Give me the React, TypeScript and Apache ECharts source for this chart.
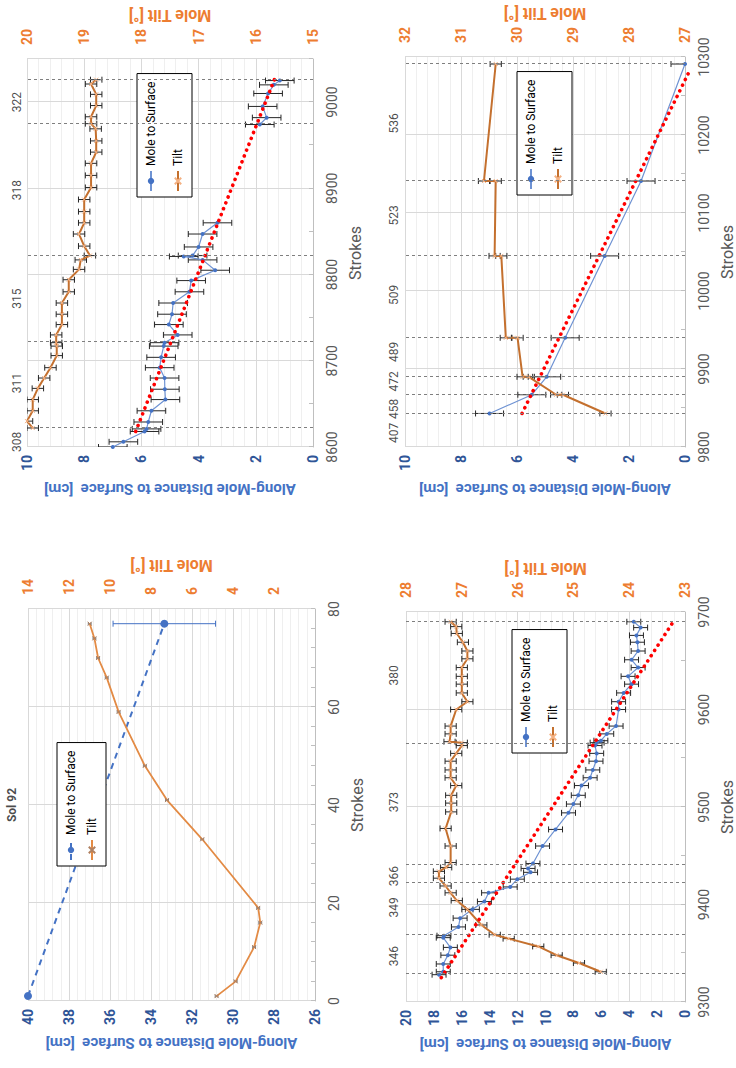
import React, { useEffect, useRef } from 'react';
import * as echarts from 'echarts';

// ---------- Panel "Sol 92" (strokes 0-80) ----------
const C_DIST_STROKES = [1, 77];
const C_DIST = [40, 33.35];
const C_DIST_ERR = [0, 2.5];
const C_TILT_STROKES = [1, 4, 11, 16, 19, 33, 41, 48, 59, 66, 70, 74, 77];
const C_TILT = [4.8, 3.87, 2.97, 2.67, 2.77, 5.5, 7.22, 8.3, 9.58, 10.16, 10.58, 10.76, 10.99];
const C_TILT_ERR = 0.07;
const C_TITLE_STROKE = 40;
const C_TITLE = 'Sol 92';

// ---------- Panel sols 308-322 (strokes 8600-9050) ----------
const A_DIST_STROKES_1 = [8600, 8606, 8618, 8621, 8629, 8642, 8655, 8667, 8680, 8692, 8704, 8717, 8721, 8730, 8742, 8754, 8767, 8780, 8793, 8805, 8817, 8821, 8822, 8832, 8847, 8860];
const A_DIST_1 = [7.0, 6.63, 5.89, 5.82, 5.76, 5.65, 5.16, 5.18, 5.19, 5.36, 5.31, 5.22, 5.19, 4.73, 5.04, 4.93, 4.89, 4.32, 4.26, 3.42, 3.86, 4.52, 4.21, 4.0, 3.86, 3.34];
const A_DIST_STROKES_2 = [8974, 8982, 8995, 9010, 9020, 9025];
const A_DIST_2 = [1.86, 1.62, 1.76, 1.57, 1.37, 1.16];
const A_DIST_ERR = 0.5;
const A_TILT_STROKES = [8622, 8630, 8642, 8655, 8668, 8680, 8692, 8706, 8717, 8721, 8730, 8742, 8754, 8767, 8780, 8794, 8806, 8817, 8822, 8833, 8847, 8860, 8873, 8887, 8901, 8915, 8929, 8942, 8955, 8969, 8975, 8983, 8996, 9009, 9021, 9026];
const A_TILT = [19.9, 20.0, 19.9, 19.9, 19.81, 19.7, 19.59, 19.48, 19.48, 19.49, 19.49, 19.39, 19.39, 19.39, 19.27, 19.27, 19.09, 19.06, 18.9, 19.0, 19.09, 19.0, 19.0, 19.0, 18.88, 18.88, 18.88, 18.79, 18.79, 18.8, 18.88, 18.88, 18.79, 18.79, 18.88, 18.79];
const A_TILT_ERR = 0.1;
const A_TREND_STROKES = [8618, 9032];
const A_TREND = [6.2, 1.28];
const A_SOL_LINES = [8622, 8722, 8822, 8975, 9026];
const A_SOL_LABEL_STROKES = [8606, 8674, 8772, 8898, 9000];
const A_SOL_LABELS = ['308', '311', '315', '318', '322'];

// ---------- Panel sols 346-380 (strokes 9300-9700) ----------
const D_DIST_STROKES = [9328, 9331, 9339, 9348, 9356, 9366, 9368, 9377, 9386, 9395, 9403, 9412, 9418, 9426, 9433, 9437, 9442, 9460, 9477, 9494, 9503, 9512, 9522, 9530, 9538, 9547, 9555, 9563, 9566, 9568, 9575, 9583, 9600, 9608, 9617, 9626, 9634, 9643, 9651, 9660, 9669, 9676, 9684, 9690];
const D_DIST = [17.63, 17.33, 17.33, 17.0, 16.82, 17.33, 17.28, 16.24, 16.12, 15.24, 14.38, 14.08, 12.53, 12.02, 11.07, 11.25, 10.9, 10.21, 9.28, 8.35, 8.0, 7.65, 7.42, 6.8, 6.61, 6.38, 6.33, 6.45, 6.3, 6.03, 5.61, 4.94, 4.76, 4.76, 4.4, 3.83, 4.08, 3.36, 3.83, 3.36, 3.41, 3.48, 3.18, 3.67];
const D_DIST_ERR = 0.5;
const D_TILT_STROKES = [9331, 9340, 9348, 9357, 9365, 9369, 9379, 9395, 9404, 9412, 9419, 9427, 9434, 9438, 9443, 9460, 9478, 9495, 9504, 9512, 9522, 9530, 9538, 9547, 9555, 9563, 9566, 9567, 9575, 9583, 9600, 9608, 9617, 9626, 9634, 9643, 9652, 9660, 9669, 9678, 9685, 9690];
const D_TILT = [24.51, 24.9, 25.3, 25.63, 26.16, 26.41, 26.65, 26.9, 27.09, 27.2, 27.29, 27.41, 27.41, 27.28, 27.2, 27.2, 27.29, 27.19, 27.19, 27.19, 27.1, 27.2, 27.2, 27.2, 27.1, 27.0, 27.0, 27.22, 27.2, 27.2, 27.1, 26.9, 27.0, 27.0, 27.0, 27.0, 26.9, 26.9, 26.98, 27.09, 27.1, 27.2];
const D_TILT_ERR = 0.1;
const D_TREND_STROKES = [9325, 9688];
const D_TREND = [17.47, 0.93];
const D_SOL_LINES = [9329, 9369, 9422, 9441, 9565, 9690];
const D_SOL_LABEL_STROKES = [9347, 9397, 9429, 9505, 9635];
const D_SOL_LABELS = ['346', '349', '366', '373', '380'];

// ---------- Panel sols 407-536 (strokes 9800-10300) ----------
const B_DIST_STROKES = [9843, 9867, 9890, 9940, 10045, 10141, 10291];
const B_DIST = [6.98, 5.47, 4.94, 4.28, 2.87, 1.57, 0];
const B_DIST_ERR = 0.5;
const B_TILT_STROKES = [9843, 9867, 9867, 9890, 9890, 9940, 9940, 10045, 10045, 10141, 10141, 10291];
const B_TILT = [28.42, 29.18, 29.3, 29.79, 29.9, 29.99, 30.2, 30.28, 30.4, 30.38, 30.59, 30.38];
const B_TILT_ERR = 0.1;
const B_TREND_STROKES = [9843, 10285];
const B_TREND = [5.82, -0.2];
const B_SOL_LINES = [9843, 9867, 9890, 9940, 10045, 10141, 10291];
const B_SOL_LABEL_STROKES = [9818, 9849, 9884, 9922, 9995, 10097, 10215];
const B_SOL_LABELS = ['407', '458', '472', '489', '509', '523', '536'];

const FONT = 'Roboto, "Liberation Sans", sans-serif';
const BLUE = '#4472C4';
const BLUE_DARK = '#2F5597';
const ORANGE = '#ED7D31';
const TILT_LINE = '#C4702E';
const GRID_MAJOR = '#D9D9D9';
const GRID_MINOR = '#EFEFEF';

const pairs = (xs: number[], ys: number[]) => xs.map((x, i) => [x, ys[i]]);
const errs = (xs: number[], ys: number[], e: number | number[]) =>
  xs.map((x, i) => {
    const d = Array.isArray(e) ? e[i] : e;
    return [x, ys[i] - d, ys[i] + d];
  }).filter((r) => r[2] - r[1] > 0);

const errBar = (color: string, cap: number) => (_p: any, api: any) => {
  const x = api.value(0);
  const a = api.coord([x, api.value(1)]);
  const b = api.coord([x, api.value(2)]);
  const st = { stroke: color, lineWidth: 1 };
  return {
    type: 'group',
    children: [
      { type: 'line', shape: { x1: a[0], y1: a[1], x2: b[0], y2: b[1] }, style: st },
      { type: 'line', shape: { x1: a[0] - cap, y1: a[1], x2: a[0] + cap, y2: a[1] }, style: st },
      { type: 'line', shape: { x1: b[0] - cap, y1: b[1], x2: b[0] + cap, y2: b[1] }, style: st },
    ],
  };
};

const CROSS = 'path://M0,0L10,10M10,0L0,10';

type PanelCfg = {
  key: string;
  grid: { left: number; top: number; width: number; height: number };
  x: [number, number, number, number];
  d: [number, number, number];
  t: [number, number, number];
  hideTiltMin?: boolean;
  showXMax?: boolean;
  legend: { left: number; top: number; gap: number };
};

const PANELS: PanelCfg[] = [
  { key: 'C', grid: { left: 67, top: 28, width: 392, height: 287 }, x: [0, 80, 20, 5], d: [26, 40, 2], t: [0, 14, 2], hideTiltMin: true, showXMax: true, legend: { left: 202, top: 57, gap: 9 } },
  { key: 'A', grid: { left: 621, top: 27, width: 388, height: 286 }, x: [8600, 9050, 100, 2], d: [0, 10, 2], t: [15, 20, 1], showXMax: false, legend: { left: 871, top: 137, gap: 15 } },
  { key: 'D', grid: { left: 66, top: 406, width: 390, height: 287 }, x: [9300, 9700, 100, 2], d: [0, 20, 2], t: [23, 28, 1], showXMax: true, legend: { left: 315, top: 512, gap: 15 } },
  { key: 'B', grid: { left: 621, top: 405, width: 390, height: 286 }, x: [9800, 10300, 100, 2], d: [0, 10, 2], t: [27, 32, 1], showXMax: true, legend: { left: 873, top: 517, gap: 15 } },
];

function buildOption() {
  const grid: any[] = [];
  const xAxis: any[] = [];
  const yAxis: any[] = [];
  const legend: any[] = [];
  const series: any[] = [];

  PANELS.forEach((p, g) => {
    grid.push({ ...p.grid, containLabel: false });
    xAxis.push({
      type: 'value', gridIndex: g, min: p.x[0], max: p.x[1], interval: p.x[2],
      axisLine: { show: true, lineStyle: { color: '#BFBFBF' } },
      axisTick: { show: true, inside: true, length: 4, lineStyle: { color: '#BFBFBF' } },
      minorTick: { show: true, splitNumber: p.x[3], length: 4, lineStyle: { color: '#BFBFBF' } },
      splitLine: { show: true, lineStyle: { color: GRID_MAJOR } },
      axisLabel: { color: '#595959', fontSize: 14, margin: 12, fontFamily: FONT, showMaxLabel: p.showXMax, formatter: (v: number) => String(v) },
      name: 'Strokes', nameLocation: 'middle', nameGap: 34,
      nameTextStyle: { color: '#595959', fontSize: 16, fontFamily: FONT },
    });
    yAxis.push({
      type: 'value', gridIndex: g, position: 'left', min: p.d[0], max: p.d[1], interval: p.d[2],
      axisLine: { show: false }, axisTick: { show: false }, splitLine: { show: false },
      axisLabel: { color: BLUE_DARK, fontWeight: 'bold', fontSize: 14, margin: 8, fontFamily: FONT },
      name: 'Along-Mole Distance to Surface  [cm]', nameLocation: 'middle', nameRotate: 90, nameGap: 34,
      nameTextStyle: { color: BLUE, fontSize: 15, fontWeight: 'bold', fontFamily: FONT },
    });
    yAxis.push({
      type: 'value', gridIndex: g, position: 'right', min: p.t[0], max: p.t[1], interval: p.t[2],
      axisLine: { show: false }, axisTick: { show: false },
      splitLine: { show: true, lineStyle: { color: GRID_MAJOR } },
      minorTick: { show: false, splitNumber: 5 },
      minorSplitLine: { show: true, lineStyle: { color: GRID_MINOR } },
      axisLabel: { color: ORANGE, fontWeight: 'bold', fontSize: 14, margin: 14, fontFamily: FONT, showMinLabel: !p.hideTiltMin },
      name: 'Mole Tilt [°]', nameLocation: 'middle', nameRotate: 90, nameGap: 36,
      nameTextStyle: { color: ORANGE, fontSize: 16, fontWeight: 'bold', fontFamily: FONT },
    });
    legend.push({
      left: p.legend.left, top: p.legend.top, orient: 'vertical',
      data: ['Mole to Surface|' + p.key, 'Tilt|' + p.key],
      formatter: (n: string) => n.split('|')[0],
      backgroundColor: '#ffffff', borderColor: '#000000', borderWidth: 1,
      padding: [8, 8, 8, 5], itemGap: p.legend.gap, itemWidth: 20, itemHeight: 8,
      textStyle: { color: '#000', fontSize: 12, fontFamily: FONT },
    });
  });

  const yD = (g: number) => g * 2;
  const yT = (g: number) => g * 2 + 1;

  const addErr = (g: number, yi: number, data: any[], color: string, cap: number) => {
    series.push({
      type: 'custom', xAxisIndex: g, yAxisIndex: yi, data, renderItem: errBar(color, cap),
      encode: { x: 0, y: [1, 2] }, clip: true, silent: true, z: 2,
    });
  };

  const addMarks = (g: number, trendX: number[], trendY: number[] | null, lines: number[], labX: number[], labs: string[], yMax: number, labDist: number, bold: boolean) => {
    if (trendY) {
      series.push({
        type: 'line', xAxisIndex: g, yAxisIndex: yD(g), data: pairs(trendX, trendY), symbol: 'none',
        lineStyle: { color: '#FF0000', width: 3.6, type: [0.1, 6.2], cap: 'round' }, clip: false, silent: true, z: 4,
        markLine: lines.length ? {
          silent: true, symbol: ['none', 'none'], label: { show: false },
          lineStyle: { color: '#7F7F7F', type: [3, 3], width: 1 },
          data: lines.map((v) => ({ xAxis: v })),
        } : undefined,
      });
    }
    series.push({
      type: 'scatter', xAxisIndex: g, yAxisIndex: yD(g), symbolSize: 1, itemStyle: { color: 'rgba(0,0,0,0)' },
      data: labX.map((x, i) => [x, yMax, labs[i]]), silent: true, clip: false,
      label: { show: true, position: 'top', distance: labDist, formatter: (q: any) => q.value[2], color: '#1a1a1a', fontSize: 12, fontWeight: bold ? 'bold' : 'normal', fontFamily: FONT },
    });
  };

  // Panel C (g=0)
  series.push({
    name: 'Mole to Surface|C', type: 'line', xAxisIndex: 0, yAxisIndex: yD(0), data: pairs(C_DIST_STROKES, C_DIST),
    symbol: 'circle', symbolSize: 8, itemStyle: { color: BLUE }, lineStyle: { color: BLUE, width: 2, type: [6, 5] }, z: 3,
  });
  addErr(0, yD(0), errs(C_DIST_STROKES, C_DIST, C_DIST_ERR), BLUE, 3);
  series.push({
    name: 'Tilt|C', type: 'line', xAxisIndex: 0, yAxisIndex: yT(0), data: pairs(C_TILT_STROKES, C_TILT),
    symbol: CROSS, symbolSize: 4, itemStyle: { color: '#F4B183', borderColor: '#B08060', borderWidth: 1 },
    lineStyle: { color: '#E38B45', width: 1.8 }, z: 3,
  });
  addErr(0, yT(0), errs(C_TILT_STROKES, C_TILT, C_TILT_ERR), '#7F7F7F', 1.5);
  addMarks(0, [], null, [], [C_TITLE_STROKE], [C_TITLE], 40, 10, true);

  // Panel A (g=1)
  const aDistLine = [...pairs(A_DIST_STROKES_1, A_DIST_1), [8917, '-'], ...pairs(A_DIST_STROKES_2, A_DIST_2)];
  series.push({
    name: 'Mole to Surface|A', type: 'line', xAxisIndex: 1, yAxisIndex: yD(1), data: aDistLine, connectNulls: false,
    symbol: 'circle', symbolSize: 4, itemStyle: { color: BLUE }, lineStyle: { color: '#6F93D3', width: 1.2 }, z: 3,
  });
  addErr(1, yD(1), [...errs(A_DIST_STROKES_1, A_DIST_1, A_DIST_ERR), ...errs(A_DIST_STROKES_2, A_DIST_2, A_DIST_ERR)], '#262626', 3);
  series.push({
    name: 'Tilt|A', type: 'line', xAxisIndex: 1, yAxisIndex: yT(1), data: pairs(A_TILT_STROKES, A_TILT),
    symbol: CROSS, symbolSize: 4, itemStyle: { color: '#F4B183', borderColor: '#F4B183', borderWidth: 1 },
    lineStyle: { color: TILT_LINE, width: 2 }, z: 3,
  });
  addErr(1, yT(1), errs(A_TILT_STROKES, A_TILT, A_TILT_ERR), '#262626', 3);
  addMarks(1, A_TREND_STROKES, A_TREND, A_SOL_LINES, A_SOL_LABEL_STROKES, A_SOL_LABELS, 10, 4, false);

  // Panel D (g=2)
  series.push({
    name: 'Mole to Surface|D', type: 'line', xAxisIndex: 2, yAxisIndex: yD(2), data: pairs(D_DIST_STROKES, D_DIST),
    symbol: 'circle', symbolSize: 4, itemStyle: { color: BLUE }, lineStyle: { color: '#6F93D3', width: 1.2 }, z: 3,
  });
  addErr(2, yD(2), errs(D_DIST_STROKES, D_DIST, D_DIST_ERR), '#262626', 3);
  series.push({
    name: 'Tilt|D', type: 'line', xAxisIndex: 2, yAxisIndex: yT(2), data: pairs(D_TILT_STROKES, D_TILT),
    symbol: CROSS, symbolSize: 4, itemStyle: { color: '#F4B183', borderColor: '#F4B183', borderWidth: 1 },
    lineStyle: { color: TILT_LINE, width: 2 }, z: 3,
  });
  addErr(2, yT(2), errs(D_TILT_STROKES, D_TILT, D_TILT_ERR), '#262626', 3);
  addMarks(2, D_TREND_STROKES, D_TREND, D_SOL_LINES, D_SOL_LABEL_STROKES, D_SOL_LABELS, 20, 6, false);

  // Panel B (g=3)
  series.push({
    name: 'Mole to Surface|B', type: 'line', xAxisIndex: 3, yAxisIndex: yD(3), data: pairs(B_DIST_STROKES, B_DIST),
    symbol: 'circle', symbolSize: 4, itemStyle: { color: BLUE }, lineStyle: { color: '#6F93D3', width: 1.2 }, z: 3,
  });
  addErr(3, yD(3), errs(B_DIST_STROKES, B_DIST, B_DIST_ERR), '#262626', 3);
  series.push({
    name: 'Tilt|B', type: 'line', xAxisIndex: 3, yAxisIndex: yT(3), data: pairs(B_TILT_STROKES, B_TILT),
    symbol: CROSS, symbolSize: 4, itemStyle: { color: '#F4B183', borderColor: '#F4B183', borderWidth: 1 },
    lineStyle: { color: TILT_LINE, width: 2 }, z: 3,
  });
  addErr(3, yT(3), errs(B_TILT_STROKES, B_TILT, B_TILT_ERR), '#262626', 3);
  addMarks(3, B_TREND_STROKES, B_TREND, B_SOL_LINES, B_SOL_LABEL_STROKES, B_SOL_LABELS, 10, 5, false);

  return {
    animation: false,
    backgroundColor: '#ffffff',
    textStyle: { fontFamily: FONT },
    grid, xAxis, yAxis, legend, series,
  };
}

export default function App() {
  const ref = useRef<HTMLDivElement>(null);
  useEffect(() => {
    if (!ref.current) return;
    const chart = echarts.init(ref.current, undefined, { renderer: 'svg' });
    chart.setOption(buildOption() as any);
    return () => chart.dispose();
  }, []);
  return (
    <div style={{ position: 'absolute', left: 0, top: 0, width: 736, height: 1068, overflow: 'hidden', background: '#fff' }}>
      <div
        ref={ref}
        style={{
          position: 'absolute', left: 0, top: 0, width: 1068, height: 736,
          transformOrigin: '0 0', transform: 'translate(0px, 1068px) rotate(-90deg)',
        }}
      />
    </div>
  );
}
